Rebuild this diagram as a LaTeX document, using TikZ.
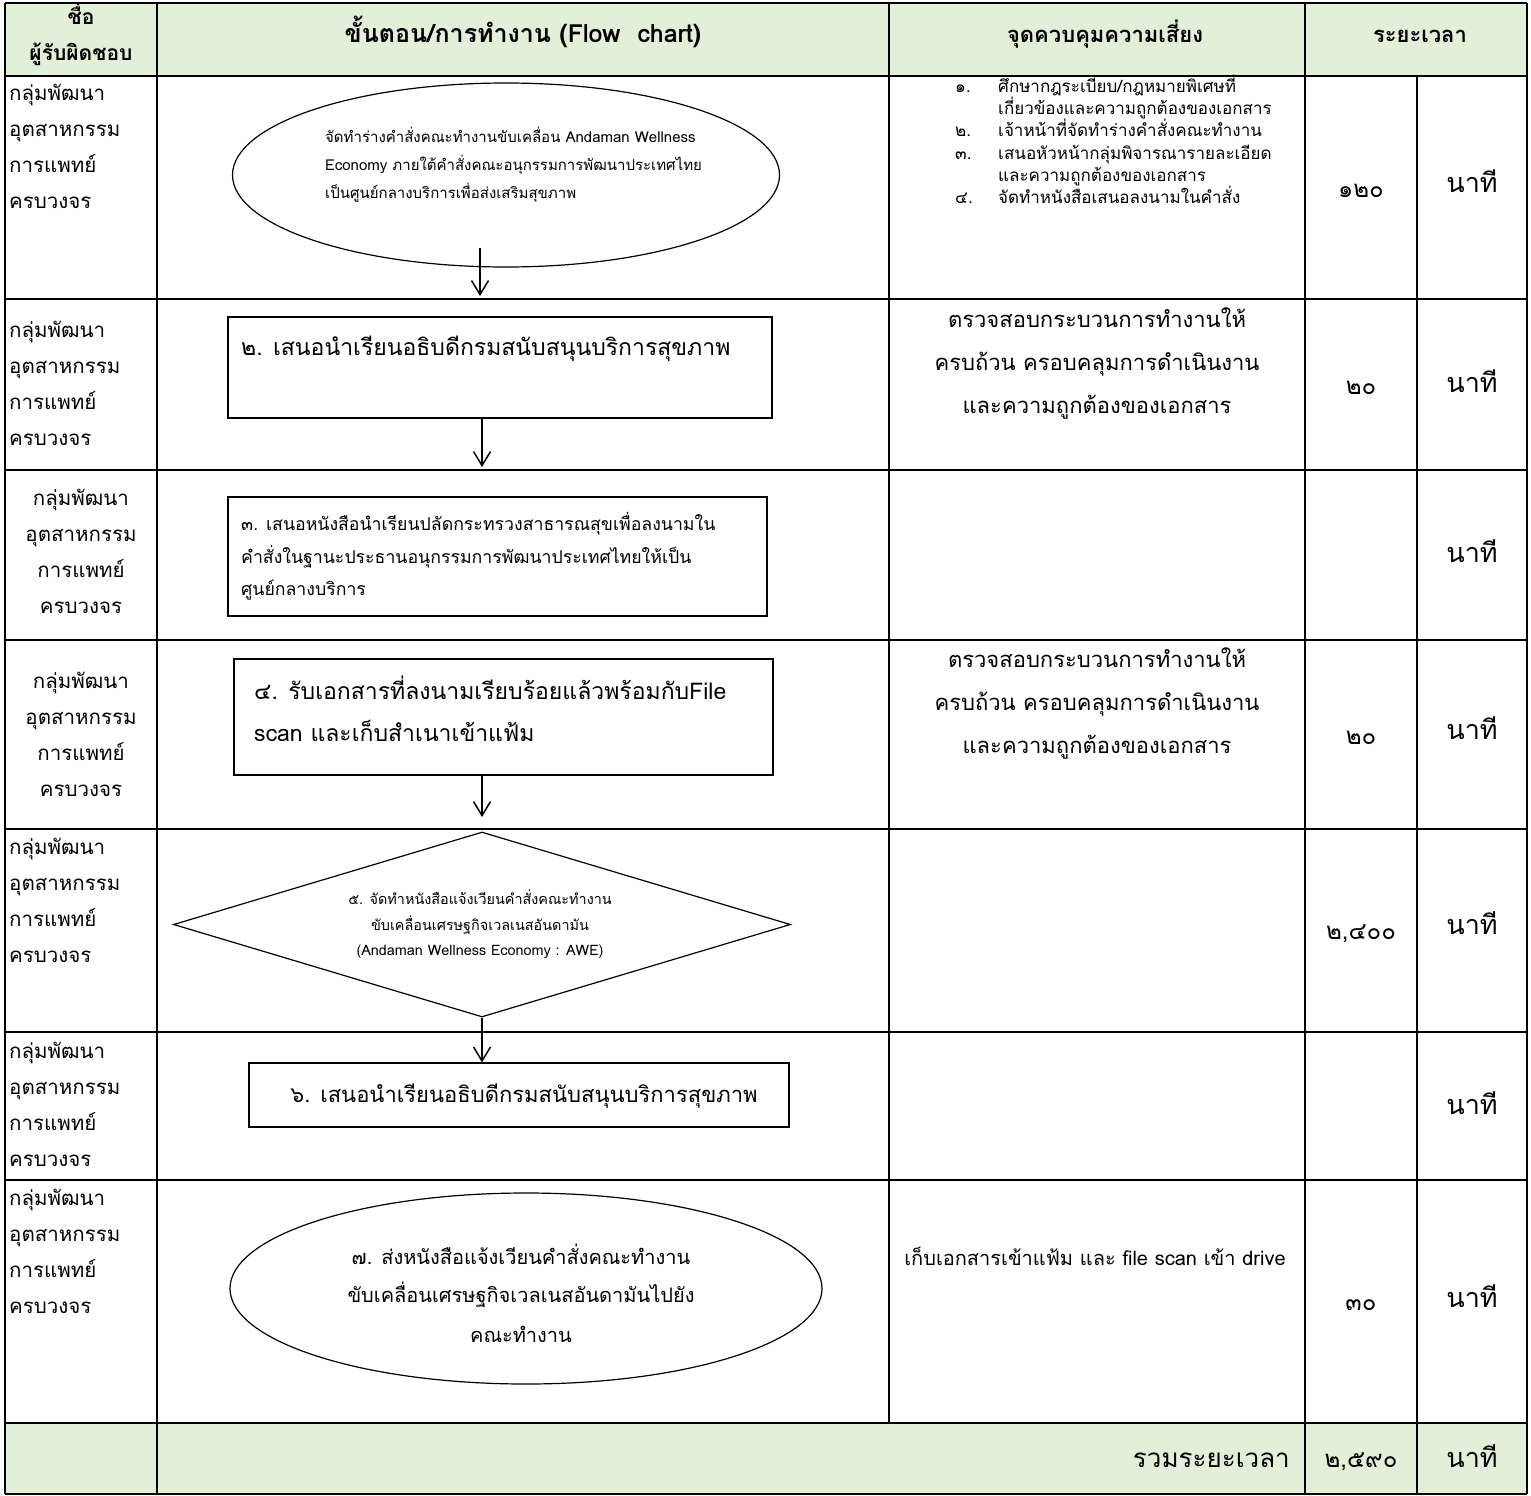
\documentclass[tikz,border=0pt]{standalone}
\usepackage{fontspec}
\usetikzlibrary{arrows.meta,shapes.geometric}
\newfontfamily\thai[Script=Thai]{Loma}
\definecolor{hdrgreen}{HTML}{E2EFD9}
\begin{document}
\begin{tikzpicture}[x=1pt,y=-1pt]
\tikzset{
  grid/.style={line width=1.8pt},
  shp/.style={draw, line width=1.2pt, inner sep=0pt},
  arr/.style={line width=1.5pt, -{Straight Barb[length=14pt,width=17pt,line width=1.5pt]}},
  txt/.style={inner sep=0pt, font=\thai\fontsize{#1}{#1}\selectfont},
  txt/.default=20,
  hdr/.style={inner sep=0pt, font=\thai\bfseries\fontsize{#1}{#1}\selectfont},
  hdr/.default=22
}
\path[use as bounding box] (0,0) rectangle (1531,1496);
% fills
\fill[hdrgreen] (5,3) rectangle (1527,76);
\fill[hdrgreen] (5,1423) rectangle (1527,1494);
% horizontal rules
\foreach \yy in {3,76,299,470,640,829,1032,1180,1423,1494}
  \draw[grid] (5,\yy) -- (1527,\yy);
% vertical rules
\draw[grid] (5,3) -- (5,1494);
\draw[grid] (157,3) -- (157,1494);
\draw[grid] (889,3) -- (889,1423);
\draw[grid] (1305,3) -- (1305,1494);
\draw[grid] (1417,76) -- (1417,1494);
\draw[grid] (1527,3) -- (1527,1494);

% header
\node[hdr=21, anchor=mid] (h1a) at (81,22) {ชื่อ};
\node[hdr=21, anchor=mid] (h1b) at (81,58) {ผู้รับผิดชอบ};
\node[hdr=25, anchor=mid] (h2) at (523,40) {ขั้นตอน/การทำงาน (Flow\ \ chart)};
\node[hdr=22, anchor=mid] (h3) at (1105,40) {จุดควบคุมความเสี่ยง};
\node[hdr=22, anchor=mid] (h4) at (1420,40) {ระยะเวลา};

% owner column
\foreach \r/\y/\anc/\xx in {1/98/mid west/9, 2/335/mid west/9, 3/503/mid/81, 4/686/mid/81, 5/852/mid west/9, 6/1056/mid west/9, 7/1203/mid west/9}
  \foreach \t [count=\i from 0] in {กลุ่มพัฒนา,อุตสาหกรรม,การแพทย์,ครบวงจร}
    \node[txt=20.5, anchor=\anc] (o\r-\i) at (\xx,\y+36*\i) {\t};

% step 1 ellipse
\node[shp, ellipse, minimum width=547pt, minimum height=184pt] (e1) at (506,175) {};
\node[txt=15, anchor=mid west] (e1a) at (325,140) {จัดทำร่างคำสั่งคณะทำงานขับเคลื่อน Andaman Wellness};
\node[txt=15, anchor=mid west] (e1b) at (325,168) {Economy ภายใต้คำสั่งคณะอนุกรรมการพัฒนาประเทศไทย};
\node[txt=15, anchor=mid west] (e1c) at (325,196) {เป็นศูนย์กลางบริการเพื่อส่งเสริมสุขภาพ};
\coordinate (a1s) at (480,248);
\coordinate (a1e) at (480,296);
\draw[arr] (a1s) -- (a1e);

% risk list row 1
\node[txt=17, anchor=mid west] (rn1) at (955,90) {๑.};
\node[txt=17, anchor=mid west] (rt1) at (998,90) {ศึกษากฎระเบียบ/กฎหมายพิเศษที่};
\node[txt=17, anchor=mid west] (rt1b) at (998,112) {เกี่ยวข้องและความถูกต้องของเอกสาร};
\node[txt=17, anchor=mid west] (rn2) at (955,134) {๒.};
\node[txt=17, anchor=mid west] (rt2) at (998,134) {เจ้าหน้าที่จัดทำร่างคำสั่งคณะทำงาน};
\node[txt=17, anchor=mid west] (rn3) at (955,157) {๓.};
\node[txt=17, anchor=mid west] (rt3) at (998,157) {เสนอหัวหน้ากลุ่มพิจารณารายละเอียด};
\node[txt=17, anchor=mid west] (rt3b) at (998,179) {และความถูกต้องของเอกสาร};
\node[txt=17, anchor=mid west] (rn4) at (955,201) {๔.};
\node[txt=17, anchor=mid west] (rt4) at (998,201) {จัดทำหนังสือเสนอลงนามในคำสั่ง};

% step 2 box
\node[shp, minimum width=544pt, minimum height=101pt] (b2) at (500,367.5) {};
\node[txt=23, anchor=mid west] (b2t) at (241,353) {๒. เสนอนำเรียนอธิบดีกรมสนับสนุนบริการสุขภาพ};
\coordinate (a2e) at (482,467);
\draw[arr] (b2.south -| a2e) -- (a2e);

% risk row 2 and row 4
\foreach \r/\y in {2/325, 4/665}{
  \node[txt=22, anchor=mid] (rc\r a) at (1097,\y) {ตรวจสอบกระบวนการทำงานให้};
  \node[txt=22, anchor=mid] (rc\r b) at (1097,\y+43) {ครบถ้วน ครอบคลุมการดำเนินงาน};
  \node[txt=22, anchor=mid] (rc\r c) at (1097,\y+86) {และความถูกต้องของเอกสาร};
}

% step 3 box
\node[shp, minimum width=539pt, minimum height=119pt] (b3) at (497.5,556.5) {};
\node[txt=17.7, anchor=mid west] (b3a) at (241,528) {๓. เสนอหนังสือนำเรียนปลัดกระทรวงสาธารณสุขเพื่อลงนามใน};
\node[txt=17.7, anchor=mid west] (b3b) at (241,561) {คำสั่งในฐานะประธานอนุกรรมการพัฒนาประเทศไทยให้เป็น};
\node[txt=17.7, anchor=mid west] (b3c) at (241,593) {ศูนย์กลางบริการ};

% step 4 box
\node[shp, minimum width=539pt, minimum height=116pt] (b4) at (503.5,717) {};
\node[txt=23, anchor=mid west] (b4a) at (254,697) {๔. รับเอกสารที่ลงนามเรียบร้อยแล้วพร้อมกับFile};
\node[txt=23, anchor=mid west] (b4b) at (254,739) {scan และเก็บสำเนาเข้าแฟ้ม};
\coordinate (a4e) at (482,817);
\draw[arr] (b4.south -| a4e) -- (a4e);

% step 5 diamond
\node[shp, diamond, aspect=3.33, minimum width=617pt, minimum height=185pt] (d5) at (482,924.5) {};
\node[txt=14.4, anchor=mid] (d5a) at (480,902) {๕. จัดทำหนังสือแจ้งเวียนคำสั่งคณะทำงาน};
\node[txt=14.4, anchor=mid] (d5b) at (480,928) {ขับเคลื่อนเศรษฐกิจเวลเนสอันดามัน};
\node[txt=14.4, anchor=mid] (d5c) at (480,953) {(Andaman Wellness Economy : AWE)};

% step 6 box
\node[shp, minimum width=540pt, minimum height=64pt] (b6) at (519,1095) {};
\node[txt=22, anchor=mid] (b6t) at (524,1100) {๖. เสนอนำเรียนอธิบดีกรมสนับสนุนบริการสุขภาพ};
\draw[arr] (d5.south) -- (d5.south |- b6.north);

% step 7 ellipse
\node[shp, ellipse, minimum width=592pt, minimum height=191pt] (e7) at (526,1288.5) {};
\node[txt=20, anchor=mid] (e7a) at (521,1262) {๗. ส่งหนังสือแจ้งเวียนคำสั่งคณะทำงาน};
\node[txt=20, anchor=mid] (e7b) at (521,1300) {ขับเคลื่อนเศรษฐกิจเวลเนสอันดามันไปยัง};
\node[txt=20, anchor=mid] (e7c) at (521,1340) {คณะทำงาน};
\node[txt=20, anchor=mid] (r7) at (1095,1263) {เก็บเอกสารเข้าแฟ้ม และ file scan เข้า drive};

% times
\node[txt=24, anchor=mid] (tn1) at (1361,195) {๑๒๐};
\node[txt=24, anchor=mid] (tn2) at (1361,392) {๒๐};
\node[txt=24, anchor=mid] (tn3) at (1361,742) {๒๐};
\node[txt=24, anchor=mid] (tn4) at (1361,937) {๒,๔๐๐};
\node[txt=24, anchor=mid] (tn5) at (1361,1308) {๓๐};
\node[txt=24, anchor=mid] (tn6) at (1361,1465) {๒,๕๙๐};
\foreach \y [count=\k] in {190,390,560,737,932,1112,1305,1465}
  \node[txt=27, anchor=mid] (tu\k) at (1472,\y) {นาที};
\node[txt=26, anchor=mid east] (tot) at (1290,1465) {รวมระยะเวลา};
\end{tikzpicture}
\end{document}
